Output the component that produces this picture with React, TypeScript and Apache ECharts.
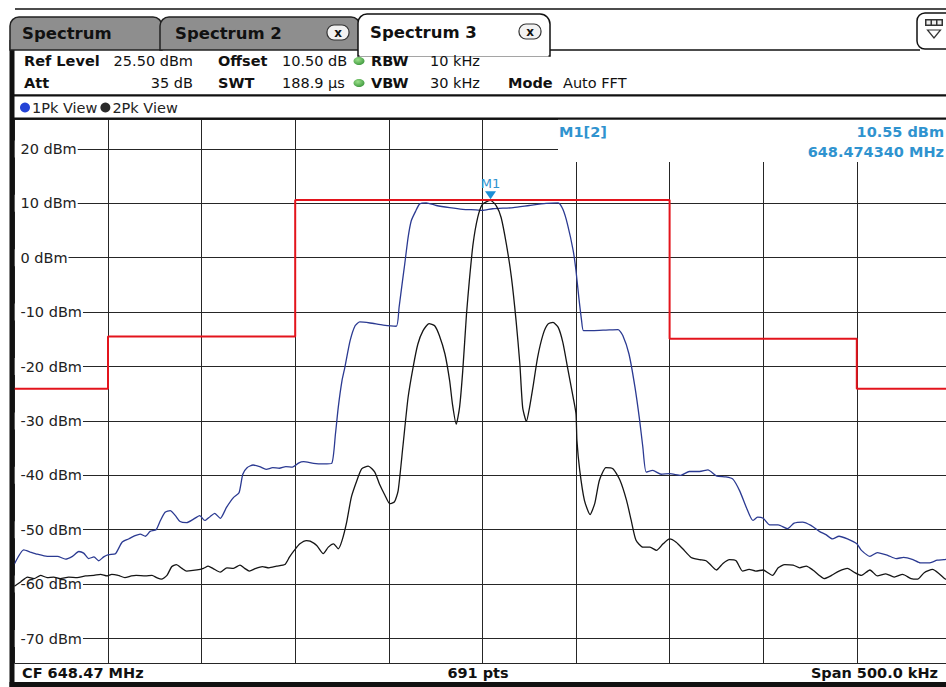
import React, { useEffect, useRef } from "react";
import * as echarts from "echarts";

// ---------- instrument settings ----------
const CF_MHZ = 648.47;
const SPAN_KHZ = 500;
const POINTS = 691;
const REF_LEVEL = 25.5;
const RANGE_DB = 100;
const DIVISIONS = 10;

// ---------- marker ----------
const MARKER_FREQ_KHZ = 4.34; // offset from CF
const MARKER_LEVEL = 10.55;
const MARKER_FREQ_MHZ = "648.474340";

// ---------- traces: [frequency offset from CF (kHz), level (dBm)] ----------
const trace1PkView: [number, number][] = [
  [-250, -56.3], [-245, -53.7], [-241.5, -54.1], [-237.8, -54.5], [-232.5, -54.9], [-227, -54.9],
  [-222.7, -55.4], [-219, -54.9], [-215.6, -54.0], [-213, -54.3], [-210.3, -55.3], [-207.5, -55.0],
  [-205, -55.7], [-202.3, -55.0], [-199.7, -54.6], [-196, -54.4], [-192.5, -52.3], [-189, -51.7],
  [-185.5, -51.1], [-182.8, -50.8], [-180, -51.2], [-177.5, -50.3], [-174.3, -50.0], [-172, -48.3],
  [-169.5, -46.8], [-166.8, -46.5], [-164, -47.4], [-161.5, -48.5], [-158, -48.7], [-154.5, -48.1],
  [-151, -47.4], [-148.3, -48.3], [-145.5, -47.6], [-143, -47.0], [-140, -47.9], [-136.7, -45.9],
  [-133, -44.1], [-130, -43.2], [-128, -39.8], [-125.7, -38.6], [-122.5, -38.1], [-119, -38.4],
  [-115.5, -38.9], [-112, -38.6], [-108.5, -38.7], [-105, -38.4], [-101.5, -38.5], [-98, -37.7],
  [-95.5, -37.5], [-90.2, -37.8], [-85, -37.9], [-80.5, -37.8], [-78.5, -32.4], [-77, -27.5],
  [-75, -22.6], [-73.5, -20.2], [-70.7, -15.3], [-68, -12.5], [-65.5, -11.8], [-60, -12.0],
  [-53, -12.4], [-46, -12.6], [-44.5, -9.1], [-42.7, -4.3], [-41.5, -1.2], [-39.7, 3.7],
  [-38, 6.8], [-35.6, 8.6], [-33.5, 9.9], [-30, 10.1], [-24.6, 9.6], [-17.5, 9.2], [-10.5, 8.9],
  [-3.5, 8.8], [0, 8.7], [5.5, 9.0], [16.5, 9.2], [25, 9.6], [34, 10.0], [40.5, 10.1], [43, 8.9],
  [45.5, 6.1], [48.5, 1.3], [50, -2.4], [51.5, -7.3], [53, -11.6], [54, -13.4], [59, -13.4],
  [66, -13.3], [72.5, -13.2], [75, -14.3], [78.3, -17.7], [81.5, -23.8], [84, -29.9], [85.7, -34.8],
  [87.5, -39.4], [91, -39.1], [95.5, -39.8], [100, -39.7], [106, -40.0], [110.5, -39.3], [116, -39.3],
  [120.5, -39.0], [125, -40.1], [130, -40.3], [133.8, -40.7], [137.5, -42.9], [141, -45.9],
  [144.5, -48.3], [147, -47.7], [150, -47.9], [153.5, -49.1], [158, -49.1], [163, -49.8],
  [166.5, -48.8], [171, -48.6], [175.5, -49.2], [180, -50.3], [183.5, -50.9], [187, -51.7],
  [190.5, -51.2], [195, -51.7], [200, -52.6], [202.5, -53.8], [207, -54.9], [211, -54.2],
  [216.5, -54.7], [221, -55.3], [225, -55.1], [230, -55.5], [234, -56.1], [238.5, -56.1],
  [243, -55.6], [246.5, -55.5], [250, -55.3],
];

const trace2PkView: [number, number][] = [
  [-250, -60.4], [-246.7, -59.6], [-243, -58.7], [-239.5, -59.0], [-236, -58.4], [-232.5, -58.8],
  [-229, -58.7], [-225.5, -59.0], [-221, -58.7], [-216.5, -58.8], [-212, -58.5], [-207.5, -58.4],
  [-204, -58.2], [-200.5, -58.5], [-198, -58.2], [-194.5, -58.4], [-191, -58.8], [-187.5, -58.5],
  [-185, -58.4], [-180, -58.5], [-176.5, -58.4], [-174, -58.8], [-171.5, -59.1], [-168.5, -58.4],
  [-166, -56.8], [-163.5, -56.4], [-160.5, -57.1], [-158, -57.6], [-152.5, -57.4], [-149, -57.1],
  [-146.5, -56.7], [-144, -57.1], [-140, -57.8], [-136.5, -57.0], [-133, -57.1], [-129.5, -56.5],
  [-127, -57.1], [-124.5, -57.6], [-121, -57.1], [-117.5, -56.8], [-114, -57.0], [-110, -56.7],
  [-105.5, -56.4], [-103, -55.0], [-100.5, -53.8], [-97.5, -52.6], [-94, -52.0], [-92, -52.1],
  [-88.5, -52.9], [-85, -54.4], [-82.3, -53.2], [-79.5, -52.6], [-77, -53.5], [-75, -52.0],
  [-72.5, -48.6], [-70, -44.0], [-67, -40.9], [-64.5, -38.8], [-61, -38.3], [-57.5, -39.4],
  [-55, -41.6], [-52, -43.7], [-49.5, -45.2], [-47, -44.9], [-45, -42.8], [-42.5, -34.8],
  [-39.7, -25.7], [-37, -20.1], [-34.5, -15.9], [-31.7, -13.4], [-28.5, -12.1], [-25.5, -12.5],
  [-23, -14.3], [-20, -17.7], [-17.5, -22.6], [-16, -26.9], [-14, -30.6], [-12.2, -27.5],
  [-10.5, -20.8], [-8.5, -10.4], [-7, -4.3], [-5, 2.5], [-2.5, 7.4], [0, 9.8], [4.34, 10.55],
  [7.5, 9.5], [10, 7.4], [12.8, 2.5], [15.5, -3.6], [18, -11.6], [20, -19.5], [21.5, -27.5],
  [23.5, -30.1], [25.2, -27.5], [27, -23.8], [29.5, -18.3], [32.5, -14.0], [35, -12.2],
  [37.7, -11.9], [40.5, -12.8], [43, -15.6], [45.5, -20.2], [48.5, -25.7], [50, -28.7],
  [50.5, -33.6], [52, -39.1], [54.5, -44.6], [57.5, -47.2], [60, -45.2], [62.5, -40.9],
  [66, -38.6], [69.7, -38.8], [73.5, -40.9], [77, -44.6], [79.5, -48.3], [82, -51.9],
  [85.7, -53.2], [89.5, -53.2], [93, -53.8], [96.5, -52.6], [100, -51.7], [103.5, -52.3],
  [107, -53.5], [111.5, -55.1], [116, -55.5], [119.5, -55.7], [122, -56.5], [125, -57.4],
  [128.5, -56.2], [132, -55.5], [135.5, -55.7], [139, -57.6], [142.5, -57.3], [146, -57.6],
  [150, -57.4], [152.5, -57.9], [155, -58.4], [158, -57.0], [161.5, -56.4], [166, -56.5],
  [169.5, -57.0], [173, -56.7], [176.5, -57.4], [180, -58.4], [182.5, -59.0], [186.5, -58.4],
  [190.5, -57.6], [195, -57.1], [199, -57.9], [202.5, -58.4], [207, -57.4], [211, -58.5],
  [215.5, -58.1], [220, -58.7], [224.5, -58.2], [229, -59.0], [232.5, -59.1], [236, -57.9],
  [240.5, -57.3], [244, -58.1], [247, -59.0], [250, -59.4],
];

// ---------- limit line ----------
const limitLine: [number, number][] = [
  [-250, -24.1], [-200, -24.1], [-200, -14.5], [-100, -14.5], [-100, 10.6], [100, 10.6],
  [100, -14.9], [200, -14.9], [200, -24.1], [250, -24.1],
];

const FF = '"DejaVu Sans", Verdana, sans-serif';
const FS = 14.5;

type TextOpt = { size?: number; weight?: string; align?: string; fill?: string; z?: number };
function txt(x: number, y: number, text: string, o: TextOpt = {}) {
  return {
    type: "text",
    x,
    y,
    z: o.z ?? 6,
    silent: true,
    style: {
      text,
      fill: o.fill ?? "#111",
      fontSize: o.size ?? FS,
      fontWeight: o.weight ?? "normal",
      fontFamily: FF,
      align: o.align ?? "left",
      verticalAlign: "middle",
    },
  };
}
function box(x: number, y: number, w: number, h: number, fill: string, z = 5) {
  return { type: "rect", z, silent: true, shape: { x, y, width: w, height: h }, style: { fill } };
}

function buildGraphic() {
  const g: any[] = [];
  const markerBlue = "#2f93cf";
  // frame
  g.push(box(15, 8.3, 940, 1.4, "#111"));
  g.push(box(9.5, 40, 5, 647, "#111"));
  g.push(box(9.5, 682, 945, 5, "#111"));
  // tabs
  const tabStyle = { fill: "#8e8e8e", stroke: "#222", lineWidth: 1.5 };
  g.push({ type: "rect", z: 5, silent: true, shape: { x: 10, y: 17, width: 152, height: 33, r: [9, 9, 0, 0] }, style: tabStyle });
  g.push({ type: "rect", z: 5, silent: true, shape: { x: 160, y: 17, width: 200, height: 33, r: [9, 9, 0, 0] }, style: tabStyle });
  g.push(box(548, 49.3, 372, 1.5, "#111"));
  g.push({ type: "rect", z: 5, silent: true, shape: { x: 358, y: 14, width: 192, height: 42, r: [9, 10, 0, 0] }, style: { fill: "#fff", stroke: "#111", lineWidth: 1.5 } });
  g.push(box(359.5, 50.5, 189, 6, "#fff"));
  g.push(txt(22, 33, "Spectrum", { size: 16.5, weight: "bold" }));
  g.push(txt(175, 33, "Spectrum 2", { size: 16.5, weight: "bold" }));
  g.push(txt(370, 32, "Spectrum 3", { size: 16.5, weight: "bold" }));
  // close buttons
  [[327, 25], [519, 24]].forEach(([x, y]) => {
    g.push({ type: "rect", z: 6, silent: true, shape: { x, y, width: 22, height: 15, r: 7 }, style: { fill: "#f2f2f2", stroke: "#333", lineWidth: 1.2 } });
    g.push(txt(x + 11, y + 7.5, "x", { size: 12, weight: "bold", align: "center", z: 7 }));
  });
  // top-right icon
  g.push({ type: "rect", z: 5, silent: true, shape: { x: 917, y: 13, width: 40, height: 36, r: 8 }, style: { fill: "#fff", stroke: "#111", lineWidth: 1.5 } });
  g.push(box(925, 19, 18, 7, "#333", 6));
  [926.5, 932, 937.5].forEach((x) => g.push(box(x, 20.5, 4, 4, "#eee", 7)));
  g.push({ type: "polygon", z: 6, silent: true, shape: { points: [[927.5, 30], [940.5, 30], [934, 38]] }, style: { fill: "none", stroke: "#333", lineWidth: 1.2 } });

  // header rows
  const r1 = 61, r2 = 83;
  g.push(txt(24, r1, "Ref Level", { weight: "bold" }));
  g.push(txt(193, r1, `${REF_LEVEL.toFixed(2)} dBm`, { align: "right" }));
  g.push(txt(218, r1, "Offset", { weight: "bold" }));
  g.push(txt(282, r1, "10.50 dB"));
  g.push(txt(371, r1, "RBW", { weight: "bold" }));
  g.push(txt(430, r1, "10 kHz"));
  g.push(txt(24, r2, "Att", { weight: "bold" }));
  g.push(txt(193, r2, "35 dB", { align: "right" }));
  g.push(txt(218, r2, "SWT", { weight: "bold" }));
  g.push(txt(282, r2, "188.9 µs"));
  g.push(txt(371, r2, "VBW", { weight: "bold" }));
  g.push(txt(430, r2, "30 kHz"));
  g.push(txt(508, r2, "Mode", { weight: "bold" }));
  g.push(txt(563, r2, "Auto FFT"));
  [r1, r2].forEach((cy) => {
    g.push({
      type: "ellipse", z: 6, silent: true, shape: { cx: 359, cy, rx: 5.5, ry: 4 },
      style: {
        fill: new echarts.graphic.RadialGradient(0.4, 0.35, 0.7, [
          { offset: 0, color: "#9be08a" },
          { offset: 1, color: "#3c963c" },
        ]),
      },
    });
  });
  // separators
  g.push(box(10, 94.3, 945, 2.2, "#111"));
  g.push(box(10, 117.4, 945, 2, "#111"));

  // marker info box (covers grid)
  g.push(box(558, 119.4, 400, 42.5, "#fff", 1));
  g.push(txt(559, 132, "M1[2]", { weight: "bold", fill: markerBlue, z: 2 }));
  g.push(txt(944, 132, `${MARKER_LEVEL.toFixed(2)} dBm`, { weight: "bold", fill: markerBlue, align: "right", z: 2 }));
  g.push(txt(944, 152, `${MARKER_FREQ_MHZ} MHz`, { weight: "bold", fill: markerBlue, align: "right", z: 2 }));

  // bottom bar
  g.push(txt(22, 673, `CF ${CF_MHZ.toFixed(2)} MHz`, { weight: "bold" }));
  g.push(txt(478, 673, `${POINTS} pts`, { weight: "bold", align: "center" }));
  g.push(txt(938, 673, `Span ${SPAN_KHZ.toFixed(1)} kHz`, { weight: "bold", align: "right" }));
  return g;
}

export default function App() {
  const ref = useRef<HTMLDivElement>(null);
  useEffect(() => {
    if (!ref.current) return;
    const chart = echarts.init(ref.current, undefined, { renderer: "svg" });
    const gridColor = "#262626";
    const option: any = {
      animation: false,
      backgroundColor: "#fff",
      grid: { left: 14.4, top: 119, width: 936, height: 544, containLabel: false },
      legend: {
        left: 15,
        top: 95,
        icon: "circle",
        itemWidth: 10,
        itemHeight: 10,
        itemGap: 3,
        selectedMode: false,
        textStyle: { fontSize: FS, fontFamily: FF, color: "#222", padding: [0, 0, 0, -3] },
        data: [
          { name: "1Pk View", itemStyle: { color: "#2443d6" } },
          { name: "2Pk View", itemStyle: { color: "#2a2a2a" } },
        ],
      },
      xAxis: {
        type: "value",
        min: -SPAN_KHZ / 2,
        max: SPAN_KHZ / 2,
        interval: SPAN_KHZ / DIVISIONS,
        axisLine: { show: false },
        axisTick: { show: false },
        axisLabel: { show: false },
        splitLine: { show: true, lineStyle: { color: gridColor, width: 1 } },
      },
      yAxis: {
        type: "value",
        min: REF_LEVEL - RANGE_DB,
        max: REF_LEVEL,
        splitNumber: DIVISIONS,
        axisLine: { show: false },
        axisTick: { show: false },
        axisLabel: {
          inside: true,
          margin: 0,
          showMinLabel: false,
          showMaxLabel: false,
          formatter: (v: number) => `${v} dBm`,
          color: "#222",
          fontSize: FS,
          fontFamily: FF,
          backgroundColor: "#fff",
          padding: [1, 1, 1, 6],
        },
        splitLine: { show: true, lineStyle: { color: gridColor, width: 1 } },
      },
      graphic: buildGraphic(),
      series: [
        {
          name: "Limit",
          type: "line",
          data: limitLine,
          symbol: "none",
          lineStyle: { color: "#e3141c", width: 2 },
          itemStyle: { color: "#e3141c" },
          z: 4,
          silent: true,
        },
        {
          name: "1Pk View",
          type: "line",
          data: trace1PkView,
          symbol: "none",
          smooth: 0.2,
          lineStyle: { color: "#2b3a92", width: 1.3 },
          itemStyle: { color: "#2b3a92" },
          z: 3,
          silent: true,
        },
        {
          name: "2Pk View",
          type: "line",
          data: trace2PkView,
          symbol: "none",
          smooth: 0.2,
          lineStyle: { color: "#151515", width: 1.3 },
          itemStyle: { color: "#151515" },
          z: 3,
          silent: true,
          markPoint: {
            silent: true,
            symbol: "triangle",
            symbolSize: [11, 8],
            symbolRotate: 180,
            symbolOffset: [0, -5],
            itemStyle: { color: "#1b8fd6" },
            label: {
              show: true,
              position: "top",
              distance: 1,
              formatter: "M1",
              color: "#2f93cf",
              fontSize: 13,
              fontFamily: FF,
            },
            data: [{ coord: [MARKER_FREQ_KHZ, MARKER_LEVEL] }],
          },
        },
      ],
    };
    chart.setOption(option);
    return () => chart.dispose();
  }, []);
  return (
    <div style={{ position: "fixed", left: 0, top: 0, width: 946, height: 687, overflow: "hidden", background: "#fff" }}>
      <div ref={ref} style={{ width: 956, height: 687 }} />
    </div>
  );
}
